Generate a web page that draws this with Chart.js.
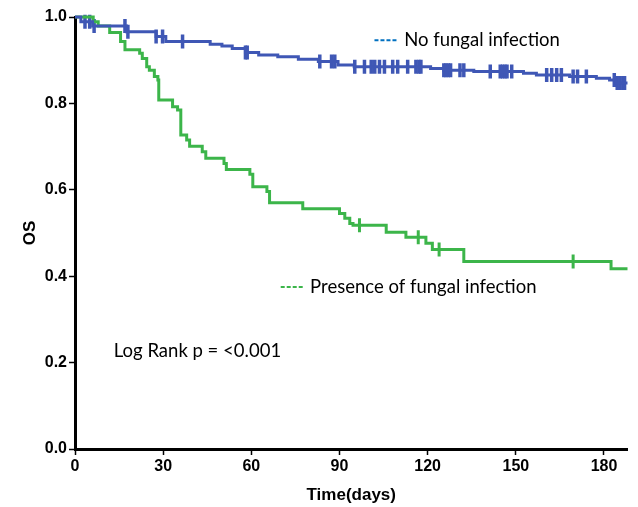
<!DOCTYPE html>
<html>
<head>
<meta charset="utf-8">
<script src="https://cdn.jsdelivr.net/npm/chart.js@4.4.0/dist/chart.umd.min.js"></script>
<style>
  html, body { margin: 0; padding: 0; background: #fff; }
</style>
</head>
<body>
<canvas id="osChart" width="638" height="507"></canvas>
<script>
// ---- data ----
const xTicks = [0, 30, 60, 90, 120, 150, 180];
const yTicks = [0, 0.2, 0.4, 0.6, 0.8, 1.0];

// presence of fungal infection (green)
const fungalDays = [0, 6.2, 7.9, 11.8, 15.5, 17, 22, 22.9, 24.4, 25.3, 27, 28.2, 28.5, 33.2, 34.9, 36, 38, 39,
  43.3, 44.5, 50.7, 51.5, 59.5, 60.5, 65.3, 66.2, 77.5, 90, 91.8, 93.5, 94.6, 105.9, 112.6, 119.4, 121.6,
  132.3, 182.4, 188];
const fungalOS = [1.0, 0.989, 0.979, 0.964, 0.943, 0.924, 0.916, 0.904, 0.885, 0.877, 0.862, 0.854, 0.808,
  0.792, 0.785, 0.727, 0.715, 0.701, 0.688, 0.673, 0.661, 0.647, 0.636, 0.607, 0.596, 0.570, 0.556, 0.545,
  0.534, 0.522, 0.518, 0.502, 0.490, 0.476, 0.462, 0.434, 0.417, 0.417];
const fungalCensored = [96.8, 116.8, 123.9, 169.5];

// no fungal infection (blue)
const noFungalDays = [0, 2, 6, 17.5, 27.6, 30.9, 46, 50, 53.5, 58, 62.5, 69, 76, 82.8, 89.5, 95, 121, 125.5,
  135.7, 152.6, 157, 168.3, 177.4, 181.9, 184, 188];
const noFungalOS = [1.0, 0.989, 0.979, 0.966, 0.955, 0.943, 0.937, 0.933, 0.927, 0.918, 0.912, 0.908, 0.902,
  0.897, 0.889, 0.885, 0.881, 0.877, 0.874, 0.870, 0.866, 0.862, 0.858, 0.854, 0.847, 0.847];
const noFungalCensored = [3.4, 5, 6.5, 17, 18, 27.6, 29.8, 36.6, 58, 58.6, 83.3, 87.3, 88.4, 95.2, 98.5, 100.8,
  102, 103.6, 105.3, 108.1, 109.8, 113.2, 116, 117, 117.7, 125.5, 126.2, 127, 127.8, 131, 132.3, 141.3,
  144.7, 145.5, 146.3, 147, 148.6, 160.5, 162.2, 163.9, 165.5, 169.5, 171, 174, 183.5, 184.5, 185.5, 186.5, 187];

const BLUE = '#3f57b5';
const GREEN = '#3cb54a';

// value of the step curve at time t
function survAt(days, os, t) {
  let v = os[0];
  for (let i = 0; i < days.length; i++) {
    if (days[i] <= t) v = os[i];
  }
  return v;
}

function curve(days, os) {
  return days.map((d, i) => ({ x: d, y: os[i] }));
}
function censorPts(cens, days, os) {
  return cens.map(t => ({ x: t, y: survAt(days, os, t) }));
}

// free text on the plot (legend labels and p value)
const labelPlugin = {
  id: 'labels',
  afterDraw(chart) {
    const { ctx, scales: { x, y } } = chart;
    ctx.save();
    function dash(day, val, color) {
      const px = x.getPixelForValue(day), py = y.getPixelForValue(val);
      ctx.strokeStyle = color;
      ctx.lineWidth = 2;
      ctx.setLineDash([4, 2]);
      ctx.beginPath();
      ctx.moveTo(px, py);
      ctx.lineTo(px + 23, py);
      ctx.stroke();
      ctx.setLineDash([]);
    }
    function text(str, day, val, size) {
      ctx.fillStyle = '#000';
      ctx.font = size + 'px Lato, "Open Sans", sans-serif';
      ctx.textBaseline = 'middle';
      ctx.textAlign = 'left';
      ctx.fillText(str, x.getPixelForValue(day), y.getPixelForValue(val));
    }
    dash(101.9, 0.946, '#0070c0');
    text('No fungal infection', 112, 0.946, 18.5);
    dash(70, 0.375, GREEN);
    text('Presence of fungal infection', 80, 0.375, 18.5);
    text('Log Rank p = <0.001', 13.2, 0.227, 18.5);
    ctx.restore();
  }
};

const tickFont = { family: '"Liberation Sans", Arial, sans-serif', size: 16, weight: 'bold' };
const titleFont = { family: '"Liberation Sans", Arial, sans-serif', size: 17, weight: 'bold' };

new Chart(document.getElementById('osChart'), {
  type: 'scatter',
  data: {
    datasets: [
      {
        label: 'No fungal infection',
        data: curve(noFungalDays, noFungalOS),
        showLine: true,
        stepped: true,
        borderColor: BLUE,
        borderWidth: 3,
        pointRadius: 0,
        clip: 6
      },
      {
        label: 'Presence of fungal infection',
        data: curve(fungalDays, fungalOS),
        showLine: true,
        stepped: true,
        borderColor: GREEN,
        borderWidth: 3,
        pointRadius: 0,
        clip: 6
      },
      {
        label: 'censored no fungal',
        data: censorPts(noFungalCensored, noFungalDays, noFungalOS),
        showLine: false,
        pointStyle: 'line',
        rotation: 90,
        pointRadius: 7,
        pointBorderWidth: 3.5,
        borderColor: BLUE,
        clip: 8
      },
      {
        label: 'censored fungal',
        data: censorPts(fungalCensored, fungalDays, fungalOS),
        showLine: false,
        pointStyle: 'line',
        rotation: 90,
        pointRadius: 7,
        pointBorderWidth: 3,
        borderColor: GREEN,
        clip: 8
      }
    ]
  },
  options: {
    responsive: false,
    animation: false,
    events: [],
    layout: { padding: { top: 17, right: 8, left: 0, bottom: 0 } },
    plugins: {
      legend: { display: false },
      tooltip: { enabled: false }
    },
    scales: {
      x: {
        type: 'linear',
        min: 0,
        max: 188,
        afterBuildTicks: s => { s.ticks = xTicks.map(v => ({ value: v })); },
        afterFit: s => { s.height = 58; },
        ticks: { color: '#000', font: tickFont, padding: 2, maxRotation: 0 },
        grid: { drawOnChartArea: false, drawTicks: true, tickLength: 6, tickWidth: 1.5, tickColor: '#000' },
        border: { display: true, color: '#000', width: 3 },
        title: { display: true, text: 'Time(days)', color: '#000', font: titleFont, padding: { top: 0, bottom: 1 } }
      },
      y: {
        min: 0,
        max: 1,
        afterBuildTicks: s => { s.ticks = yTicks.map(v => ({ value: v })); },
        afterFit: s => { s.width = 75; },
        ticks: { color: '#000', font: tickFont, padding: 2, callback: v => v.toFixed(1) },
        grid: { drawOnChartArea: false, drawTicks: true, tickLength: 6, tickWidth: 1.5, tickColor: '#000' },
        border: { display: true, color: '#000', width: 3 },
        title: { display: true, text: 'OS', color: '#000', font: titleFont, padding: { top: 20, bottom: 0 } }
      }
    }
  },
  plugins: [labelPlugin]
});
</script>
</body>
</html>
